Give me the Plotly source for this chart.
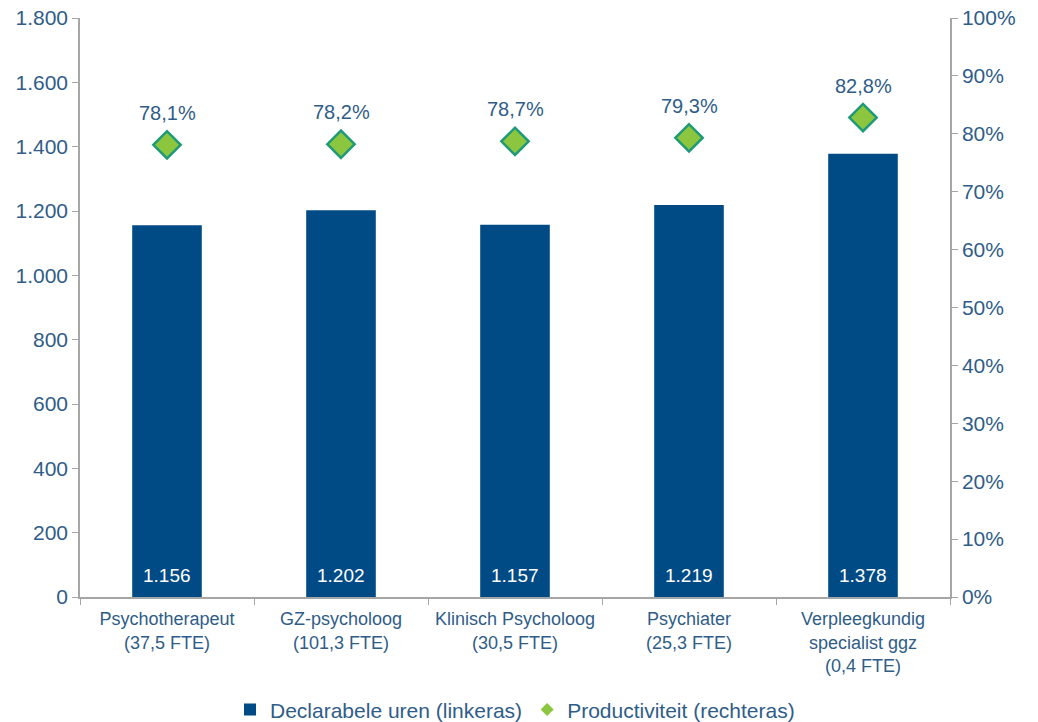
import plotly.graph_objects as go

categories = [
    "Psychotherapeut<br>(37,5 FTE)",
    "GZ-psycholoog<br>(101,3 FTE)",
    "Klinisch Psycholoog<br>(30,5 FTE)",
    "Psychiater<br>(25,3 FTE)",
    "Verpleegkundig<br>specialist ggz<br>(0,4 FTE)",
]
declarabele_uren = [1156, 1202, 1157, 1219, 1378]
productiviteit = [0.781, 0.782, 0.787, 0.793, 0.828]

text_blue = "#2F5D88"
bar_blue = "#004B85"
axis_grey = "#A6A6A6"
diamond_fill = "#8CC63F"
diamond_edge = "#1E9A78"
font_family = "Liberation Sans, Arial, sans-serif"

fig = go.Figure()

# Hours per discipline (left axis)
fig.add_trace(go.Bar(
    x=categories,
    y=declarabele_uren,
    name="Declarabele uren (linkeras)",
    marker=dict(color=bar_blue, line=dict(width=0)),
    width=0.4,
    yaxis="y",
    showlegend=True,
))

# Hour values printed at the foot of each bar
for cat, val in zip(categories, declarabele_uren):
    fig.add_annotation(
        x=cat, y=0, xref="x", yref="y",
        text=f"{val:,}".replace(",", "."),
        showarrow=False, yanchor="bottom", yshift=9,
        font=dict(color="white", size=19, family=font_family),
    )

# Productivity markers (right axis)
fig.add_trace(go.Scatter(
    x=categories,
    y=productiviteit,
    mode="markers",
    marker=dict(symbol="diamond", size=21, color=diamond_fill,
                line=dict(color=diamond_edge, width=2.5)),
    yaxis="y2",
    showlegend=False,
))

# Legend entry with a smaller diamond
fig.add_trace(go.Scatter(
    x=[None], y=[None],
    name="Productiviteit (rechteras)",
    mode="markers",
    marker=dict(symbol="diamond", size=10, color=diamond_fill,
                line=dict(color=diamond_fill, width=0)),
    yaxis="y2",
    showlegend=True,
))

# Percentage labels above the markers
for cat, val in zip(categories, productiviteit):
    fig.add_annotation(
        x=cat, y=val, xref="x", yref="y2",
        text=f"{val * 100:.1f}".replace(".", ",") + "%",
        showarrow=False, yshift=32,
        font=dict(color=text_blue, size=20, family=font_family),
    )

fig.update_layout(
    width=1038,
    height=722,
    margin=dict(l=80, r=88, t=18, b=125, autoexpand=False),
    paper_bgcolor="white",
    plot_bgcolor="white",
    separators=",.",
    font=dict(family=font_family, color=text_blue, size=17),
    bargap=0.6,
    showlegend=True,
    legend=dict(
        orientation="h",
        x=0.5, xanchor="center",
        y=-0.195, yanchor="middle",
        font=dict(size=21, color=text_blue),
        itemwidth=30,
        tracegroupgap=0,
    ),
    xaxis=dict(
        showline=True, linecolor=axis_grey, linewidth=1.5,
        ticks="outside", tickson="boundaries", ticklen=6, tickcolor=axis_grey,
        showgrid=False, automargin=False,
        ticklabelstandoff=5,
        tickfont=dict(size=18, color=text_blue),
    ),
    yaxis=dict(
        range=[0, 1800], dtick=200, tickformat=",.0f",
        showline=True, linecolor=axis_grey, linewidth=1.5,
        ticks="outside", ticklen=6, tickcolor=axis_grey,
        showgrid=False, zeroline=False, automargin=False,
        tickfont=dict(size=21, color=text_blue),
    ),
    yaxis2=dict(
        range=[0, 1], dtick=0.1, tickformat=".0%",
        overlaying="y", side="right",
        showline=True, linecolor=axis_grey, linewidth=1.5,
        ticks="outside", ticklen=6, tickcolor=axis_grey,
        showgrid=False, zeroline=False, automargin=False,
        tickfont=dict(size=21, color=text_blue),
    ),
)

fig.write_html("out.html")
